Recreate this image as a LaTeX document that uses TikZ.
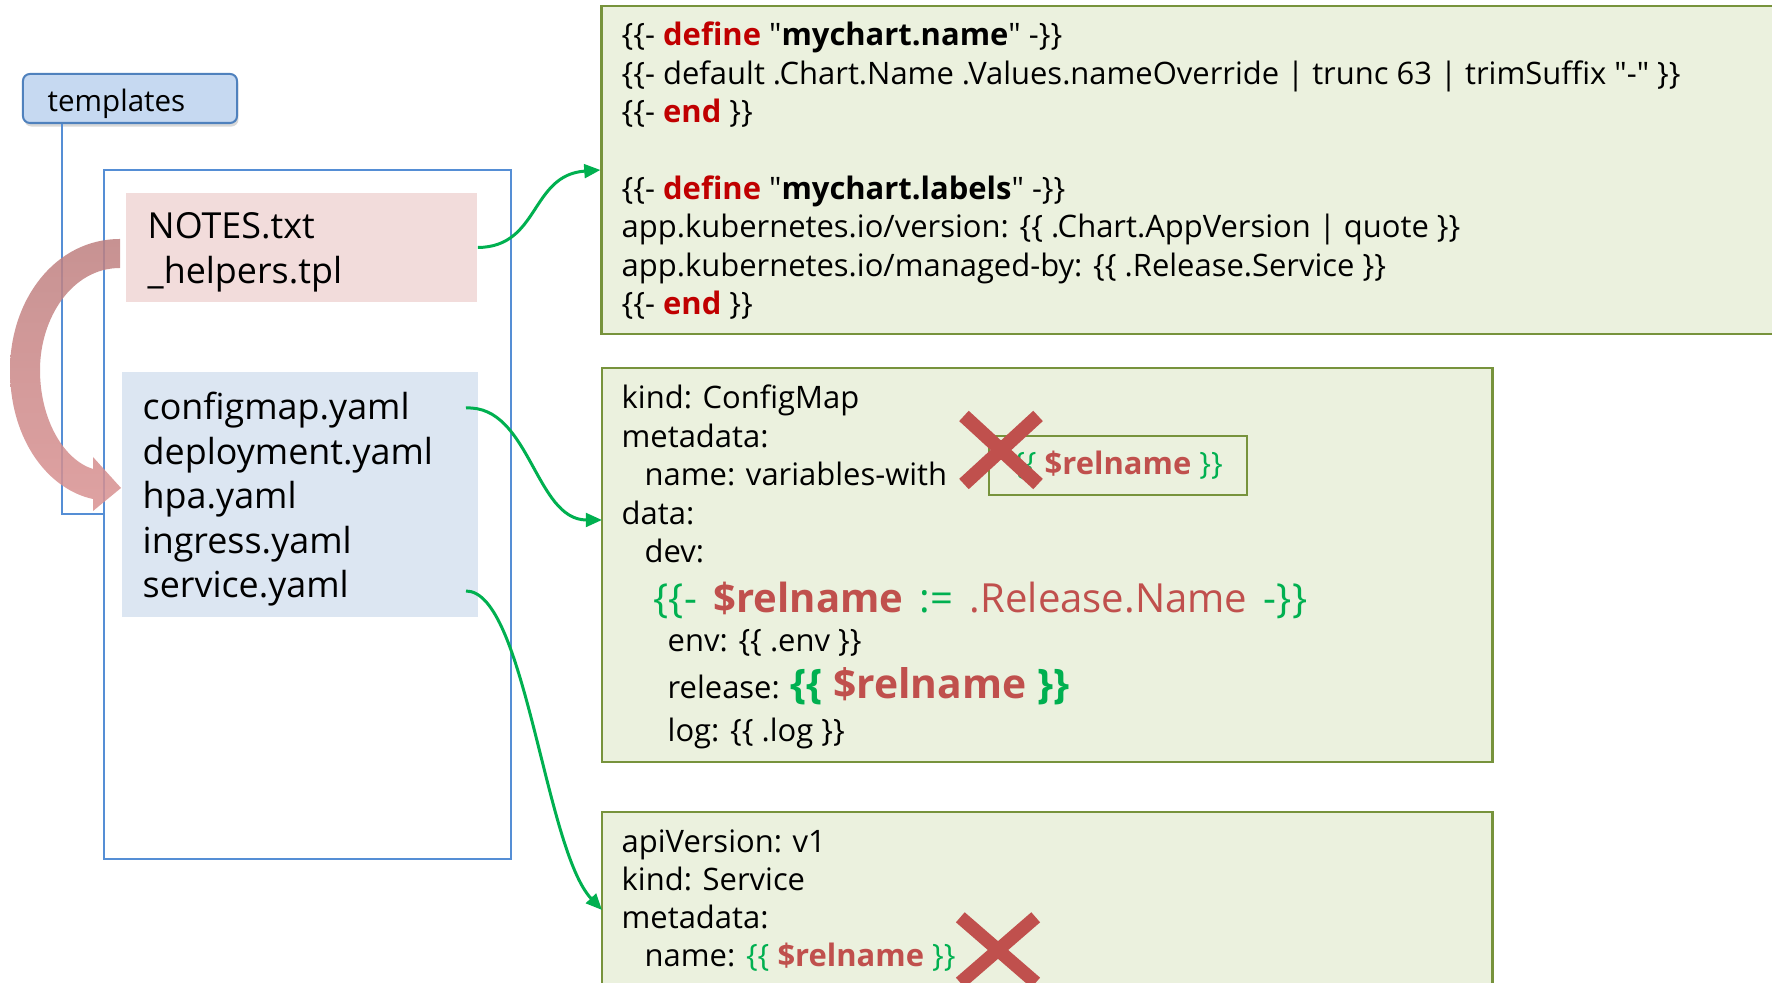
\documentclass[tikz,border=0pt]{standalone}
\usepackage{fontspec}
\setmainfont{Open Sans}
\usetikzlibrary{arrows.meta,shapes.misc,shadows}

\definecolor{tgreen}{HTML}{00B050}
\definecolor{tred}{HTML}{C0504D}
\definecolor{kwred}{HTML}{C00000}
\definecolor{codefill}{HTML}{EBF1DE}
\definecolor{boxgreen}{HTML}{77933C}
\definecolor{tplfill}{HTML}{C6D9F1}
\definecolor{tplline}{HTML}{4F81BD}
\definecolor{dirline}{HTML}{558ED5}
\definecolor{pinkfill}{HTML}{F2DCDB}
\definecolor{bluefill}{HTML}{DCE6F2}
\definecolor{arrowtop}{RGB}{190,128,128}
\definecolor{arrowbot}{RGB}{218,146,146}

\newcommand\codefont{\fontsize{8.8pt}{10pt}\selectfont}
\newcommand\listfont{\fontsize{10.2pt}{12pt}\selectfont}
\newcommand\lb{\{\{}
\newcommand\rb{\}\}}
\newcommand\qt{\textquotedbl}
\newcommand\grn[1]{\textcolor{tgreen}{#1}}
\newcommand\kw[1]{\textcolor{kwred}{\textbf{#1}}}
\newcommand\relvar{\textcolor{tred}{\textbf{\$relname}}}

\begin{document}
\begin{tikzpicture}[x=0.01cm, y=-0.01cm,
    code/.style={anchor=base west, inner sep=0pt, font=\codefont},
    file/.style={anchor=base west, inner sep=0pt, font=\listfont},
    codebox/.style={draw=boxgreen, fill=codefill, line width=0.7pt, inner sep=0pt},
    link/.style={draw=tgreen, line width=0.85pt, -{Triangle[length=4.6pt,width=3.9pt]}},
    xmark/.style={cross out, draw=tred, inner sep=0pt}]
    \clip (0,0) rectangle (1772,983);
    \fill[white] (0,0) rectangle (1772,983);

    %templates folder
    \node at (130, 98.5) [draw=tplline, fill=tplfill, line width=0.57pt, rounded corners=2pt, minimum width=2.14cm, minimum height=0.49cm, drop shadow={opacity=0.3, shadow xshift=0.4pt, shadow yshift=-1pt}] (tpl) {};
    \node at (47, 112) [anchor=base west, inner sep=0pt, font=\fontsize{8.4pt}{10pt}\selectfont] (tplname) {templates};
    \node at (307.5, 514.5) [draw=dirline, line width=0.57pt, minimum width=4.07cm, minimum height=6.89cm] (folder) {};
    \draw [draw=dirline, line width=0.57pt] (tpl.south west) ++(40, 0) |- (folder.west);

    \node at (301.5, 247.5) [fill=pinkfill, minimum width=3.51cm, minimum height=1.09cm] (helpbox) {};
    \node at (300, 494.5) [fill=bluefill, minimum width=3.56cm, minimum height=2.45cm] (yamlbox) {};
    \node at (147, 239) [file] (notes) {NOTES.txt};
    \node at (147, 284) [file] (helpers) {\_helpers.tpl};
    \node at (142, 420) [file] (f1) {configmap.yaml};
    \node at (142, 464.5) [file] (f2) {deployment.yaml};
    \node at (142, 509) [file] (f3) {hpa.yaml};
    \node at (142, 553.5) [file] (f4) {ingress.yaml};
    \node at (142, 598) [file] (f5) {service.yaml};

    %helpers are included into the yaml files
    \shade [top color=arrowtop, bottom color=arrowbot, opacity=0.85] (120, 239) .. controls (55, 239) and (10, 300) .. (10, 370) .. controls (10, 442) and (50, 490) .. (93, 499) -- (93, 511) -- (121, 488) -- (93, 457) -- (93, 469) .. controls (64, 460) and (40, 420) .. (40, 370) .. controls (40, 318) and (72, 268) .. (120, 268) -- cycle;

    %helpers file
    \node at (1201, 170) [codebox, minimum width=11.98cm, minimum height=3.28cm] (cb1) {};
    \node at (621, 46) [code] (h1) {\lb- \kw{define} \qt\textbf{mychart.name}\qt{} -\rb};
    \node at (621, 84.4) [code] (h2) {\lb- default .Chart.Name .Values.nameOverride | trunc 63 | trimSuffix \qt-\qt{} \rb};
    \node at (621, 122.8) [code] (h3) {\lb- \kw{end} \rb};
    \node at (621, 199.6) [code] (h4) {\lb- \kw{define} \qt\textbf{mychart.labels}\qt{} -\rb};
    \node at (621, 238) [code] (h5) {app.kubernetes.io/version: \lb{} .Chart.AppVersion | quote \rb};
    \node at (621, 276.4) [code] (h6) {app.kubernetes.io/managed-by: \lb{} .Release.Service \rb};
    \node at (621, 314.8) [code] (h7) {\lb- \kw{end} \rb};

    %configmap
    \node at (1047, 565) [codebox, minimum width=8.90cm, minimum height=3.94cm] (cb2) {};
    \node at (621, 409) [code] (m1) {kind: ConfigMap};
    \node at (621, 447.4) [code] (m2) {metadata:};
    \node at (644, 485.8) [code] (m3) {name: variables-with};
    \node at (621, 524.2) [code] (m4) {data:};
    \node at (644, 562.6) [code] (m5) {dev:};
    \node at (653, 613) [code, font=\fontsize{11.4pt}{12pt}\selectfont] (m6) {\grn{\lb-}\hspace{4.7pt}\relvar\hspace{4.7pt}\grn{:=}\hspace{4.7pt}\textcolor{tred}{.Release.Name}\hspace{4.7pt}\grn{-\rb}};
    \node at (667, 652) [code] (m7) {env: \lb{} .env \rb};
    \node at (667, 699) [code] (m8) {release: {\fontsize{11.6pt}{14pt}\selectfont\textbf{\grn{\lb} \relvar{} \grn{\rb}}}};
    \node at (667, 742) [code] (m9) {log: \lb{} .log \rb};
    \node at (1118, 465.5) [draw=boxgreen, line width=0.6pt, minimum width=2.58cm, minimum height=0.59cm, font=\codefont] (relbox) {\grn{\lb} \relvar{} \grn{\rb}\hspace{4pt}};
    \node at (1001, 450) [xmark, line width=4pt, minimum width=0.6cm, minimum height=0.54cm] (x1) {};

    %service
    \node at (1047, 911) [codebox, minimum width=8.90cm, minimum height=1.98cm] (cb3) {};
    \node at (621, 853) [code] (s1) {apiVersion: v1};
    \node at (621, 891) [code] (s2) {kind: Service};
    \node at (621, 929) [code] (s3) {metadata:};
    \node at (644, 967) [code] (s4) {name: \grn{\lb} \relvar{} \grn{\rb}};
    \node at (998, 950) [xmark, line width=3.8pt, minimum width=0.62cm, minimum height=0.52cm] (x2) {};

    %links from files to rendered text
    \coordinate (cmOut) at (466, 408);
    \coordinate (cmIn) at (602, 520);
    \coordinate (svcOut) at (466, 591);
    \coordinate (svcIn) at (602, 910);
    \draw [link] (helpbox.east) .. controls (540, 247) and (530, 175) .. (cb1.west);
    \draw [link] (cmOut) .. controls (530, 405) and (535, 520) .. (cmIn);
    \draw [link] (svcOut) .. controls (525, 591) and (545, 850) .. (svcIn);
\end{tikzpicture}
\end{document}
